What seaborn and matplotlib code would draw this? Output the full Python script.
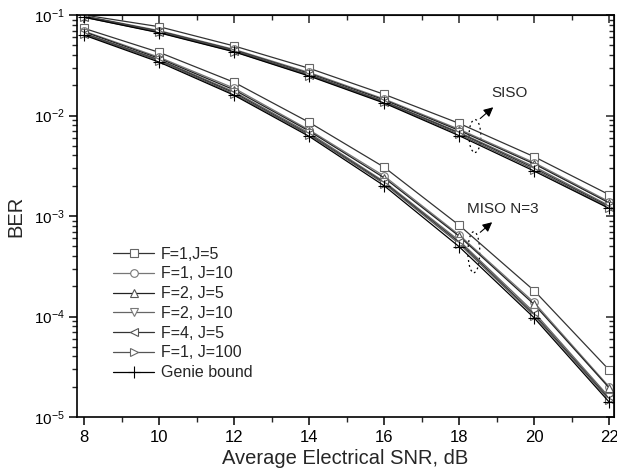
import matplotlib
matplotlib.use("Agg")
import matplotlib.pyplot as plt
import seaborn as sns
import numpy as np
from matplotlib.patches import Ellipse
from matplotlib.ticker import LogLocator, NullFormatter, MultipleLocator

snr = [8, 10, 12, 14, 16, 18, 20, 22]
labels = ["F=1,J=5", "F=1, J=10", "F=2, J=5", "F=2, J=10", "F=4, J=5", "F=1, J=100", "Genie bound"]

siso_f1j5 = [0.100, 0.0765, 0.0492, 0.0295, 0.01625, 0.00835, 0.00389, 0.00163]
siso_f1j10 = [0.098, 0.070, 0.0455, 0.0268, 0.0146, 0.0073, 0.0034, 0.00139]
siso_f2j5 = [0.097, 0.069, 0.0448, 0.0262, 0.0143, 0.0071, 0.0033, 0.00135]
siso_f2j10 = [0.096, 0.068, 0.0442, 0.0257, 0.0139, 0.0068, 0.0031, 0.00127]
siso_f4j5 = [0.096, 0.0675, 0.0438, 0.0253, 0.0137, 0.0067, 0.0030, 0.00124]
siso_f1j100 = [0.095, 0.067, 0.0433, 0.0250, 0.0135, 0.0065, 0.0029, 0.00121]
siso_genie = [0.095, 0.0665, 0.0430, 0.0247, 0.0133, 0.0063, 0.0028, 0.00119]

miso_f1j5 = [0.0736, 0.0425, 0.0214, 0.00855, 0.00306, 0.00081, 0.000181, 2.94e-5]
miso_f1j10 = [0.069, 0.038, 0.0187, 0.0072, 0.0025, 0.00065, 0.000138, 2.0e-5]
miso_f2j5 = [0.068, 0.037, 0.0180, 0.0070, 0.0024, 0.00063, 0.000132, 1.95e-5]
miso_f2j10 = [0.066, 0.036, 0.0172, 0.0067, 0.0022, 0.00057, 0.000110, 1.58e-5]
miso_f4j5 = [0.065, 0.0355, 0.0168, 0.0065, 0.00215, 0.00055, 0.000105, 1.52e-5]
miso_f1j100 = [0.064, 0.035, 0.0163, 0.0064, 0.0021, 0.00053, 0.000102, 1.48e-5]
miso_genie = [0.063, 0.034, 0.0159, 0.0062, 0.0020, 0.000495, 0.000097, 1.41e-5]

siso = [siso_f1j5, siso_f1j10, siso_f2j5, siso_f2j10, siso_f4j5, siso_f1j100, siso_genie]
miso = [miso_f1j5, miso_f1j10, miso_f2j5, miso_f2j10, miso_f4j5, miso_f1j100, miso_genie]

markers = ["s", "o", "^", "v", "<", ">", "+"]
line_colors = ["#333333", "#777777", "#222222", "#666666", "#333333", "#555555", "#000000"]
edge_colors = ["#666666", "#777777", "#555555", "#777777", "#555555", "#666666", "#000000"]

sns.set_style("ticks")
plt.rcParams["font.family"] = ["Liberation Sans", "DejaVu Sans"]
plt.rcParams["mathtext.fontset"] = "custom"
plt.rcParams["mathtext.rm"] = "Liberation Sans"
plt.rcParams["mathtext.it"] = "Liberation Sans"

fig = plt.figure(figsize=(6.17, 4.76), dpi=100)
ax = fig.add_axes([77/617, 1 - 417/476, 537/617, 402/476])

for group in (siso, miso):
    for i, vals in enumerate(group):
        sns.lineplot(x=snr, y=vals, ax=ax, color=line_colors[i], lw=0.9,
                     marker=markers[i], markersize=5.5 if markers[i] != "+" else 9,
                     markerfacecolor="white", markeredgecolor=edge_colors[i],
                     markeredgewidth=0.8,
                     label=labels[i] if group is siso else None)

ax.set_yscale("log")
ax.set_xlim(7.81, 22.13)
ax.set_ylim(1e-5, 1e-1)
ax.xaxis.set_major_locator(MultipleLocator(2))
ax.xaxis.set_minor_locator(MultipleLocator(1))
ax.yaxis.set_major_locator(LogLocator(base=10, numticks=10))
ax.yaxis.set_minor_locator(LogLocator(base=10, subs=np.arange(2, 10), numticks=20))
ax.yaxis.set_minor_formatter(NullFormatter())

for s in ax.spines.values():
    s.set_linewidth(1.2)
    s.set_color("black")
ax.tick_params(axis="both", which="major", direction="out", length=6, width=1.1, colors="black")
ax.tick_params(axis="x", which="major", labelsize=12, pad=3)
ax.tick_params(axis="y", which="major", labelsize=11, pad=3)
ax.tick_params(axis="both", which="minor", direction="out", length=3.5, width=1.0)

top = ax.secondary_xaxis("top")
top.xaxis.set_major_locator(MultipleLocator(2))
top.xaxis.set_minor_locator(MultipleLocator(1))
top.tick_params(which="major", direction="in", length=6, width=1.1, labeltop=False)
top.tick_params(which="minor", direction="in", length=3.5, width=1.0)
right = ax.secondary_yaxis("right")
right.yaxis.set_major_locator(LogLocator(base=10, numticks=10))
right.yaxis.set_minor_locator(LogLocator(base=10, subs=np.arange(2, 10), numticks=20))
right.tick_params(which="major", direction="in", length=6, width=1.1, labelright=False)
right.tick_params(which="minor", direction="in", length=3.5, width=1.0, labelright=False)
right.yaxis.set_minor_formatter(NullFormatter())

ax.set_xlabel("Average Electrical SNR, dB", fontsize=14.5, labelpad=3)
ax.set_ylabel("BER", fontsize=14.5, labelpad=6)

# annotations
for cx, cy, h in [(0.741, 0.699, 0.082), (0.739, 0.410, 0.102)]:
    ax.add_patch(Ellipse((cx, cy), 0.022, h, transform=ax.transAxes, fill=False,
                         ls=(0, (1.5, 2.5)), lw=0.9, ec="black"))
ax.annotate("", xy=(0.779, 0.775), xytext=(0.747, 0.738), xycoords="axes fraction",
            arrowprops=dict(arrowstyle="-|>", color="black", lw=0.8, mutation_scale=14))
ax.annotate("", xy=(0.777, 0.489), xytext=(0.747, 0.455), xycoords="axes fraction",
            arrowprops=dict(arrowstyle="-|>", color="black", lw=0.8, mutation_scale=14))
ax.text(0.805, 0.806, "SISO", transform=ax.transAxes, ha="center", va="center", fontsize=11)
ax.text(0.793, 0.517, "MISO N=3", transform=ax.transAxes, ha="center", va="center", fontsize=11)

leg = ax.legend(loc="upper left", bbox_to_anchor=(0.055, 0.44), frameon=False,
                fontsize=11.5, handlelength=2.6, labelspacing=0.3, handletextpad=0.4,
                borderaxespad=0)

fig.savefig("out.png", dpi=100)
